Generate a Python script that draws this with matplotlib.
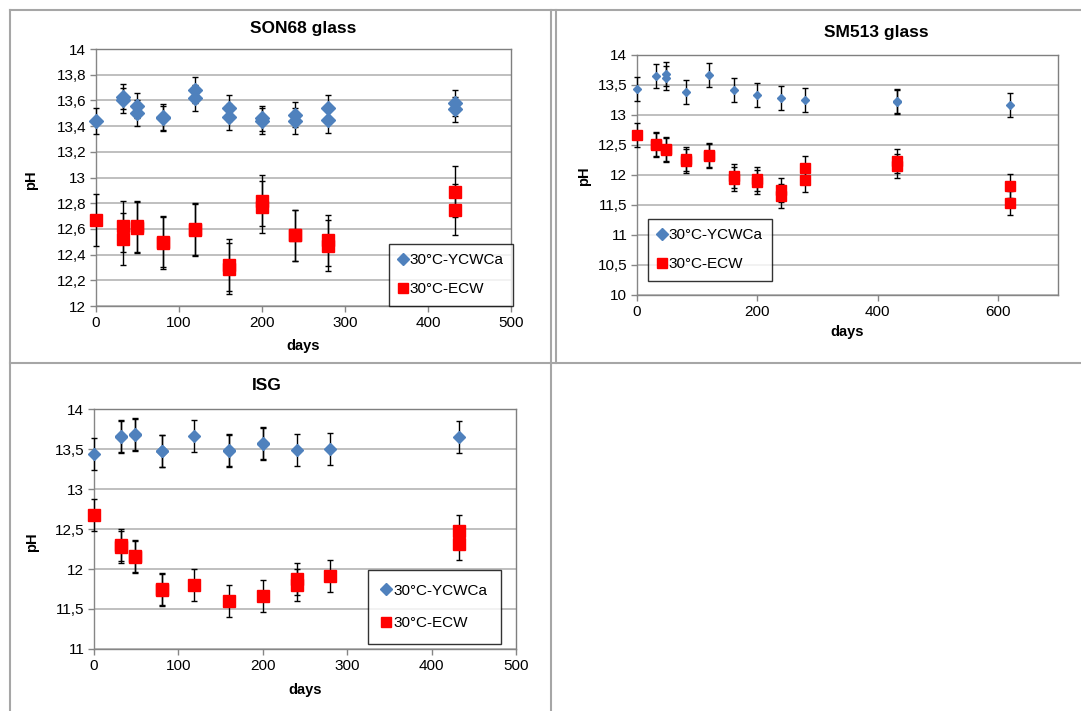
import numpy as np
import matplotlib
matplotlib.use("Agg")
import matplotlib.pyplot as plt
from matplotlib.lines import Line2D
from matplotlib.ticker import FuncFormatter

plt.rcParams['font.family'] = ['Liberation Sans', 'DejaVu Sans']

# SON68 glass
son_ycw_days = [0, 32, 32, 49, 49, 81, 81, 119, 119, 160, 160, 200, 200, 240, 240, 280, 280, 433, 433]
son_ycw_ph = [13.44, 13.63, 13.60, 13.56, 13.50, 13.46, 13.47, 13.68, 13.62, 13.54, 13.47,
              13.46, 13.44, 13.49, 13.44, 13.54, 13.45, 13.58, 13.53]
son_ecw_days = [0, 32, 32, 49, 49, 81, 81, 119, 119, 160, 160, 200, 200, 240, 240, 280, 280, 433, 433]
son_ecw_ph = [12.67, 12.62, 12.52, 12.62, 12.61, 12.49, 12.50, 12.60, 12.59, 12.32, 12.29,
              12.82, 12.77, 12.55, 12.55, 12.51, 12.47, 12.89, 12.75]

# SM513 glass
sm_ycw_days = [0, 32, 49, 49, 81, 119, 161, 200, 240, 280, 433, 433, 621]
sm_ycw_ph = [13.44, 13.65, 13.68, 13.62, 13.38, 13.66, 13.42, 13.34, 13.28, 13.25, 13.24, 13.22, 13.16]
sm_ecw_days = [0, 32, 32, 49, 49, 81, 81, 119, 119, 161, 161, 200, 200, 240, 240, 280, 280,
               433, 433, 621, 621]
sm_ecw_ph = [12.67, 12.52, 12.50, 12.43, 12.42, 12.26, 12.23, 12.34, 12.31, 11.98, 11.94,
             11.93, 11.89, 11.75, 11.65, 12.12, 11.92, 12.24, 12.15, 11.82, 11.54]

# ISG
isg_ycw_days = [0, 32, 32, 49, 49, 81, 81, 119, 160, 160, 200, 200, 240, 280, 433]
isg_ycw_ph = [13.44, 13.65, 13.66, 13.68, 13.69, 13.47, 13.48, 13.66, 13.48, 13.49, 13.58,
              13.56, 13.49, 13.50, 13.65]
isg_ecw_days = [0, 32, 32, 49, 49, 81, 81, 119, 160, 200, 240, 240, 280, 433, 433]
isg_ecw_ph = [12.67, 12.30, 12.28, 12.15, 12.16, 11.75, 11.74, 11.80, 11.60, 11.66, 11.87,
              11.80, 11.91, 12.48, 12.31]

ycw_err = {'son': 0.1, 'sm': 0.2, 'isg': 0.2}
ecw_err = 0.2

BLUE = '#4F81BD'
RED = '#FF0000'
GRID = '#BFBFBF'
AXC = '#868686'

W, H = 1081, 711
fig = plt.figure(figsize=(W / 100, H / 100), dpi=100)


def px_rect(x0, y0, x1, y1):
    return [x0 / W, 1 - y1 / H, (x1 - x0) / W, (y1 - y0) / H]


def comma(v, pos):
    s = ('%g' % round(v, 2))
    return s.replace('.', ',')


def panel(rect, days, ycw, ecw, yerr_b, xlim, xstep, ylim, ystep, msb, mss):
    ax = fig.add_axes(px_rect(*rect))
    ax.set_xlim(*xlim)
    ax.set_ylim(*ylim)
    ax.set_xticks(np.arange(xlim[0], xlim[1] + 1, xstep))
    ax.set_yticks(np.arange(ylim[0], ylim[1] + 1e-6, ystep))
    ax.yaxis.set_major_formatter(FuncFormatter(comma))
    ax.grid(axis='y', color=GRID, lw=1.4)
    ax.set_axisbelow(True)
    for s in ax.spines.values():
        s.set_color('#7F7F7F')
        s.set_linewidth(1.0)
    ax.spines['left'].set_color(AXC)
    ax.spines['bottom'].set_color(AXC)
    ax.tick_params(axis='both', direction='out', length=4, width=1, color=AXC,
                   labelsize=11, pad=3)
    for d, v, e in ((days[0], ycw, yerr_b), (days[1], ecw, ecw_err)):
        _, caps, bars = ax.errorbar(d, v, yerr=e, fmt='none', ecolor='black',
                                    elinewidth=1, capsize=2.2, capthick=1, zorder=3)
        for a in list(caps) + list(bars):
            a.set_clip_on(False)
    ax.plot(days[0], ycw, 'D', color=BLUE, ms=msb, mec=BLUE, ls='none', zorder=4,
            clip_on=False)
    ax.plot(days[1], ecw, 's', color=RED, ms=mss, mec=RED, ls='none', zorder=4,
            clip_on=False)
    return ax


def legend(ax, x0, y0, fs=11, pad=0.6, sp=1.0):
    handles = [Line2D([], [], marker='D', color=BLUE, ls='none', ms=6),
               Line2D([], [], marker='s', color=RED, ls='none', ms=7.5)]
    leg = ax.legend(handles, ['30°C-YCWCa', '30°C-ECW'], loc='upper left',
                    bbox_to_anchor=(x0 / W, 1 - y0 / H), bbox_transform=fig.transFigure,
                    fontsize=fs, frameon=True, fancybox=False, handlelength=0.6,
                    handletextpad=0.15, borderpad=pad, labelspacing=sp,
                    borderaxespad=0)
    leg.get_frame().set_edgecolor('black')
    leg.get_frame().set_linewidth(1.0)
    return leg


# cell borders of the layout table
border = dict(color='#A6A6A6', lw=1.5, transform=fig.transFigure)
for (xa, ya, xb, yb) in [(9.5, 10, W, 10), (9.5, 363, W, 363),
                         (9.5, 10, 9.5, H), (551, 10, 551, H), (556, 10, 556, 363)]:
    fig.add_artist(Line2D([xa / W, xb / W], [1 - ya / H, 1 - yb / H], **border))

ax1 = panel((96, 49, 511, 306), (son_ycw_days, son_ecw_days), son_ycw_ph, son_ecw_ph,
            ycw_err['son'], (0, 500), 100, (12, 14), 0.2, 7, 9)
legend(ax1, 389, 244)
fig.text(303 / W, 1 - 28 / H, 'SON68 glass', ha='center', va='center',
         fontsize=12.5, fontweight='bold')
fig.text(31 / W, 1 - 180 / H, 'pH', rotation=90, ha='center', va='center',
         fontsize=10.5, fontweight='bold')
fig.text(303 / W, 1 - 346 / H, 'days', ha='center', va='center',
         fontsize=10.5, fontweight='bold')

ax2 = panel((637, 55, 1058, 295), (sm_ycw_days, sm_ecw_days), sm_ycw_ph, sm_ecw_ph,
            ycw_err['sm'], (0, 700), 200, (10, 14), 0.5, 4.5, 6.5)
legend(ax2, 648, 219)
fig.text(876 / W, 1 - 32 / H, 'SM513 glass', ha='center', va='center',
         fontsize=12.5, fontweight='bold')
fig.text(584 / W, 1 - 176 / H, 'pH', rotation=90, ha='center', va='center',
         fontsize=10.5, fontweight='bold')
fig.text(847 / W, 1 - 332 / H, 'days', ha='center', va='center',
         fontsize=10.5, fontweight='bold')

ax3 = panel((94, 409, 516, 649), (isg_ycw_days, isg_ecw_days), isg_ycw_ph, isg_ecw_ph,
            ycw_err['isg'], (0, 500), 100, (11, 14), 0.5, 6.5, 9)
legend(ax3, 368, 570, pad=0.9, sp=1.2)
fig.text(267 / W, 1 - 385 / H, 'ISG', ha='center', va='center',
         fontsize=12.5, fontweight='bold')
fig.text(32 / W, 1 - 542 / H, 'pH', rotation=90, ha='center', va='center',
         fontsize=10.5, fontweight='bold')
fig.text(305 / W, 1 - 690 / H, 'days', ha='center', va='center',
         fontsize=10.5, fontweight='bold')

fig.savefig('out.png', dpi=100)
